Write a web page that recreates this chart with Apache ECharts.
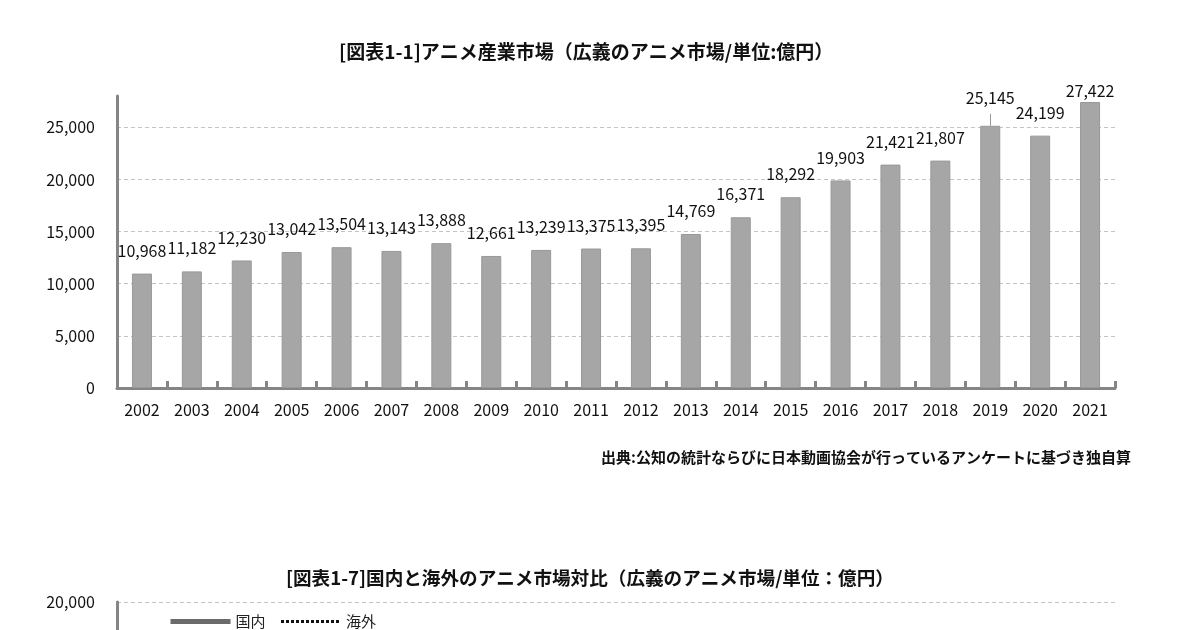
<!DOCTYPE html>
<html>
<head>
<meta charset="utf-8">
<script src="https://cdn.jsdelivr.net/npm/echarts@6/dist/echarts.min.js"></script>
<style>
  html, body { margin: 0; padding: 0; background: #fff; overflow: hidden; }
  #chart_market { width: 1200px; height: 1000px; }
</style>
</head>
<body>
<div id="chart_market"></div>
<script>
// 図表1-1 アニメ産業市場（億円）
const years = ['2002','2003','2004','2005','2006','2007','2008','2009','2010','2011',
               '2012','2013','2014','2015','2016','2017','2018','2019','2020','2021'];
const marketValues = [10968, 11182, 12230, 13042, 13504, 13143, 13888, 12661, 13239, 13375,
                      13395, 14769, 16371, 18292, 19903, 21421, 21807, 25145, 24199, 27422];
const yTicks = [0, 5000, 10000, 15000, 20000, 25000];

// 図表1-7 国内と海外 (only the top edge is visible)
const seriesNames = ['国内', '海外'];
const domesticValues = [];
const overseasValues = [];

const font = '"Noto Sans CJK JP", "Noto Sans", sans-serif';
const axisGrey = '#858585';

let myChart = echarts.init(document.getElementById('chart_market'));

let labelDistance = function (idx) {
  if (idx === 19) return 3;
  if (idx === 17) return 20;
  return 15;
};

let barData = marketValues.map((v, i) => ({
  value: v,
  label: { distance: labelDistance(i) }
}));

let option = {
  animation: false,
  textStyle: { fontFamily: font },
  title: [{
    text: '[図表1-1]アニメ産業市場（広義のアニメ市場/単位:億円）',
    left: 334,
    top: 37,
    textStyle: { fontSize: 19, fontWeight: 'bold', color: '#111', fontFamily: font }
  }, {
    text: '出典:公知の統計ならびに日本動画協会が行っているアンケートに基づき独自算',
    right: 64,
    top: 445,
    textStyle: { fontSize: 15, fontWeight: 'bold', color: '#111', fontFamily: font }
  }, {
    text: '[図表1-7]国内と海外のアニメ市場対比（広義のアニメ市場/単位：億円）',
    left: 281,
    top: 564,
    textStyle: { fontSize: 18.6, fontWeight: 'bold', color: '#111', fontFamily: font }
  }],
  legend: {
    data: [{
      name: seriesNames[0],
      itemStyle: { opacity: 0 },
      lineStyle: { color: '#6b6b6b', width: 5, type: 'solid' }
    }, {
      name: seriesNames[1],
      itemStyle: { opacity: 0 },
      lineStyle: { color: '#111', width: 3, type: [3, 2] }
    }],
    left: 163,
    top: 609,
    itemWidth: 60,
    itemHeight: 14,
    itemGap: 14,
    textStyle: { fontSize: 15, color: '#222', fontFamily: font }
  },
  grid: [{
    left: 117,
    width: 998,
    top: 96,
    height: 292
  }, {
    left: 117,
    width: 998,
    top: 602,
    height: 300
  }],
  xAxis: [{
    type: 'category',
    gridIndex: 0,
    data: years,
    axisLine: { show: true, lineStyle: { color: axisGrey, width: 3 } },
    axisTick: { show: true, inside: true, length: 7, lineStyle: { color: axisGrey, width: 3 } },
    axisLabel: { color: '#111', fontSize: 16, margin: 14, interval: 0, fontFamily: font },
    splitLine: { show: false }
  }, {
    type: 'category',
    gridIndex: 1,
    data: years,
    axisLine: { show: true, lineStyle: { color: axisGrey, width: 3 } },
    axisTick: { show: false },
    axisLabel: { show: false }
  }],
  yAxis: [{
    type: 'value',
    gridIndex: 0,
    min: yTicks[0],
    max: 28000,
    interval: 5000,
    axisLine: { show: true, lineStyle: { color: axisGrey, width: 3 } },
    axisTick: { show: false },
    axisLabel: {
      color: '#111', fontSize: 16, margin: 22, showMaxLabel: false, fontFamily: font,
      formatter: v => yTicks.indexOf(v) >= 0 ? v.toLocaleString('en-US') : ''
    },
    splitLine: { show: true, showMaxLine: false, showMinLine: false,
      lineStyle: { color: '#c4c4c4', width: 1, type: [4, 3] } }
  }, {
    type: 'value',
    gridIndex: 1,
    min: 0,
    max: 20000,
    interval: 5000,
    axisLine: { show: true, lineStyle: { color: axisGrey, width: 3 } },
    axisTick: { show: false },
    axisLabel: {
      color: '#111', fontSize: 16, margin: 22, fontFamily: font,
      formatter: v => v.toLocaleString('en-US')
    },
    splitLine: { show: true, lineStyle: { color: '#c4c4c4', width: 1, type: [4, 3] } }
  }],
  series: [{
    name: 'アニメ産業市場',
    type: 'bar',
    xAxisIndex: 0,
    yAxisIndex: 0,
    barWidth: 20,
    data: barData,
    itemStyle: { color: '#a6a6a6', borderColor: '#999', borderWidth: 1 },
    label: {
      show: true,
      position: 'top',
      color: '#111',
      fontSize: 16,
      fontFamily: font,
      formatter: p => p.value.toLocaleString('en-US')
    },
    markLine: {
      silent: true,
      symbol: 'none',
      label: { show: false },
      lineStyle: { color: '#999', width: 1, type: 'solid' },
      data: [[{ coord: ['2019', 25145] }, { coord: ['2019', 26300] }]]
    }
  }, {
    name: seriesNames[0],
    type: 'line',
    xAxisIndex: 1,
    yAxisIndex: 1,
    symbol: 'none',
    data: domesticValues,
    lineStyle: { color: '#6b6b6b', width: 5 },
    itemStyle: { color: '#6b6b6b' }
  }, {
    name: seriesNames[1],
    type: 'line',
    xAxisIndex: 1,
    yAxisIndex: 1,
    symbol: 'none',
    data: overseasValues,
    lineStyle: { color: '#111', width: 3, type: [3, 2] },
    itemStyle: { color: '#111' }
  }]
};

myChart.setOption(option, true);

window.addEventListener('resize', () => {
  myChart.resize();
});
</script>
</body>
</html>
